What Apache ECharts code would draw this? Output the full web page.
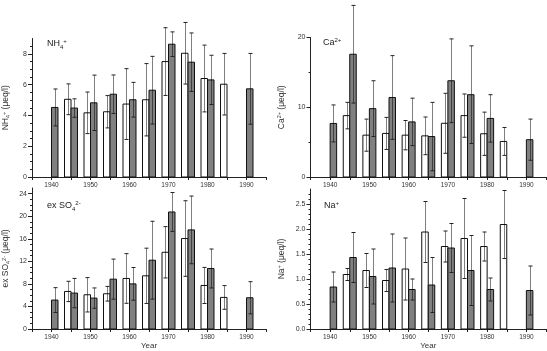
<!DOCTYPE html>
<html>
<head>
<meta charset="utf-8">
<script src="https://cdn.jsdelivr.net/npm/echarts@6/dist/echarts.min.js"></script>
<style>
  html, body { margin: 0; padding: 0; background: #fff; }
  #chart { width: 547px; height: 351px; }
</style>
</head>
<body>
<div id="chart"></div>
<script>
// 5-year periods; open bars sit left of the period tick, filled bars right of it
const years = [1940, 1945, 1950, 1955, 1960, 1965, 1970, 1975, 1980, 1985, 1990];

// NH4+ (ueq/l)
const nh4Open = [null, 5.05, 4.17, 4.24, 4.74, 5.02, 7.5, 8.04, 6.4, 6.03, null];
const nh4OpenSd = [null, 1.0, 1.35, 1.05, 2.3, 2.35, 2.2, 2.0, 2.17, 2.0, null];
const nh4Fill = [4.52, 4.48, 4.82, 5.38, 5.02, 5.64, 8.63, 7.46, 6.31, null, 5.73];
const nh4FillSd = [1.2, 0.6, 1.8, 1.25, 1.13, 2.2, 0.8, 1.9, 1.6, null, 2.3];

// Ca2+ (ueq/l)
const caOpen = [null, 8.8, 6.0, 6.25, 6.0, 5.9, 7.7, 8.8, 6.2, 5.1, null];
const caOpenSd = [null, 1.9, 2.3, 2.3, 2.1, 2.7, 4.3, 3.1, 3.1, 2.0, null];
const caFill = [7.68, 17.6, 9.8, 11.4, 7.9, 5.8, 13.8, 11.8, 8.4, null, 5.35];
const caFillSd = [2.65, 7.0, 4.0, 6.0, 3.4, 4.9, 6.0, 7.0, 3.4, null, 2.95];

// ex SO4 2- (ueq/l)
const so4Open = [null, 6.66, 6.07, 6.25, 8.96, 9.43, 13.6, 16.04, 7.72, 5.6, null];
const so4OpenSd = [null, 1.8, 3.05, 1.3, 4.4, 4.9, 4.55, 6.7, 3.2, 2.1, null];
const so4Fill = [5.13, 6.37, 5.48, 8.84, 8.0, 12.2, 20.75, 17.57, 10.73, null, 5.54];
const so4FillSd = [2.2, 2.6, 1.8, 3.55, 2.9, 6.9, 3.45, 6.0, 3.45, null, 2.85];

// Na+ (ueq/l)
const naOpen = [null, 1.09, 1.17, 0.97, 1.2, 1.94, 1.65, 1.81, 1.65, 2.09, null];
const naOpenSd = [null, 0.12, 0.34, 0.22, 0.62, 0.61, 0.31, 0.8, 0.29, 0.68, null];
const naFill = [0.84, 1.43, 1.05, 1.22, 0.79, 0.88, 1.62, 1.17, 0.79, null, 0.77];
const naFillSd = [0.3, 0.5, 0.55, 0.68, 0.21, 0.55, 0.49, 0.7, 0.23, null, 0.49];

const xTickLabels = [1940, 1950, 1960, 1970, 1980, 1990];

const FONT = "'Liberation Sans', Arial, sans-serif";
const BAR_W = 6.5;
const FILL_GREY = '#808080';

const rich = {
    b: { fontSize: 9, fontFamily: FONT, fontWeight: 'normal', color: '#222', lineHeight: 12 },
    sub: { fontSize: 6, fontFamily: FONT, fontWeight: 'normal', color: '#222', lineHeight: 6, verticalAlign: 'bottom' },
    sup: { fontSize: 6, fontFamily: FONT, fontWeight: 'normal', color: '#222', lineHeight: 6, verticalAlign: 'top' },
    n: { fontSize: 8.5, fontFamily: FONT, color: '#333', lineHeight: 10 },
    nsub: { fontSize: 5.5, fontFamily: FONT, color: '#333', lineHeight: 5, verticalAlign: 'bottom' },
    nsup: { fontSize: 5.5, fontFamily: FONT, color: '#333', lineHeight: 5, verticalAlign: 'top' }
};

const panels = [
    {
        grid: { left: 30, top: 38.5, width: 236, height: 138.5 },
        max: 9, interval: 2, minor: 4, ticks: [0, 2, 4, 6, 8],
        label: '{b|NH}{sub|4}{sup|+}', labelPos: [47, 38],
        name: '{n|NH}{nsub|4}{nsup|+}{n| (μeq/l)}', nameGap: 21,
        open: nh4Open, openSd: nh4OpenSd, fill: nh4Fill, fillSd: nh4FillSd,
        fmt: v => String(v), year: false
    },
    {
        grid: { left: 310.5, top: 37.5, width: 235.5, height: 139.5 },
        max: 20, interval: 10, minor: 2, ticks: [0, 10, 20],
        label: '{b|Ca}{sup|2+}', labelPos: [323, 37],
        name: '{n|Ca}{nsup|2+}{n| (μeq/l)}', nameGap: 24,
        open: caOpen, openSd: caOpenSd, fill: caFill, fillSd: caFillSd,
        fmt: v => String(v), year: false
    },
    {
        grid: { left: 30, top: 188, width: 236, height: 141 },
        max: 25, interval: 4, minor: 4, ticks: [0, 4, 8, 12, 16, 20, 24],
        label: '{b|ex SO}{sub|4}{sup|2-}', labelPos: [47, 200],
        name: '{n|ex SO}{nsub|4}{nsup|2-}{n| (μeq/l)}', nameGap: 21,
        open: so4Open, openSd: so4OpenSd, fill: so4Fill, fillSd: so4FillSd,
        fmt: v => String(v), year: true
    },
    {
        grid: { left: 310.5, top: 189, width: 235.5, height: 140 },
        max: 2.8, interval: 0.5, minor: 5, ticks: [0, 0.5, 1, 1.5, 2, 2.5],
        label: '{b|Na}{sup|+}', labelPos: [324, 200],
        name: '{n|Na}{nsup|+}{n| (μeq/l)}', nameGap: 24,
        open: naOpen, openSd: naOpenSd, fill: naFill, fillSd: naFillSd,
        fmt: v => v.toFixed(1), year: true
    }
];

function toData(vals, sds) {
    const out = [];
    years.forEach((y, i) => {
        if (vals[i] != null) out.push([y, vals[i], sds[i]]);
    });
    return out;
}

// side -1: bar left of the period tick (open), +1: right of it (filled)
function barItem(side) {
    return function (params, api) {
        const x = api.value(0), v = api.value(1), sd = api.value(2);
        const p0 = api.coord([x, 0]);
        const p1 = api.coord([x, v]);
        const hi = api.coord([x, v + sd]);
        const lo = api.coord([x, v - sd]);
        const left = side < 0 ? p0[0] - BAR_W : p0[0];
        const cx = Math.round(left + BAR_W / 2) + 0.5;
        return {
            type: 'group',
            children: [
                {
                    type: 'rect',
                    shape: { x: left, y: p1[1], width: BAR_W, height: p0[1] - p1[1] },
                    style: { fill: side < 0 ? '#fff' : FILL_GREY, stroke: '#111', lineWidth: 1 }
                },
                {
                    type: 'line',
                    shape: { x1: cx, y1: lo[1], x2: cx, y2: hi[1] },
                    style: { stroke: 'rgba(0,0,0,0.5)', lineWidth: 1 }
                },
                {
                    type: 'line',
                    shape: { x1: cx - 2, y1: hi[1], x2: cx + 2, y2: hi[1] },
                    style: { stroke: '#222', lineWidth: 1 }
                },
                {
                    type: 'line',
                    shape: { x1: cx - 2, y1: lo[1], x2: cx + 2, y2: lo[1] },
                    style: { stroke: '#222', lineWidth: 1 }
                }
            ]
        };
    };
}

const option = {
    animation: false,
    backgroundColor: '#fff',
    grid: [], xAxis: [], yAxis: [], series: [], title: []
};

panels.forEach((p, i) => {
    option.grid.push(p.grid);
    option.xAxis.push({
        type: 'value', gridIndex: i, min: 1935, max: 1995, interval: 5,
        axisLine: { lineStyle: { color: '#222', width: 1 } },
        axisTick: { length: 3, lineStyle: { color: '#222' } },
        axisLabel: {
            customValues: xTickLabels, formatter: v => String(v),
            fontSize: 6.5, fontFamily: FONT, color: '#333', margin: 5
        },
        splitLine: { show: false },
        name: p.year ? 'Year' : '',
        nameLocation: 'middle', nameGap: 12,
        nameTextStyle: { fontSize: 8, fontFamily: FONT, color: '#333' }
    });
    option.yAxis.push({
        type: 'value', gridIndex: i, min: 0, max: p.max, interval: p.interval,
        axisLine: { show: true, lineStyle: { color: '#222', width: 1 } },
        axisTick: { show: true, length: 4, customValues: p.ticks, lineStyle: { color: '#222' } },
        minorTick: { show: true, splitNumber: p.minor, length: 2, lineStyle: { color: '#222' } },
        axisLabel: {
            customValues: p.ticks, formatter: p.fmt,
            fontSize: 7, fontFamily: FONT, color: '#333', margin: 5
        },
        splitLine: { show: false },
        name: p.name, nameLocation: 'middle', nameGap: p.nameGap, nameRotate: 90,
        nameTextStyle: { rich: rich }
    });
    option.title.push({
        text: p.label, left: p.labelPos[0], top: p.labelPos[1], padding: 0,
        textStyle: { fontWeight: 'normal', rich: rich }
    });
    option.series.push({
        type: 'custom', xAxisIndex: i, yAxisIndex: i,
        renderItem: barItem(-1), clip: false,
        encode: { x: 0, y: 1 },
        data: toData(p.open, p.openSd)
    });
    option.series.push({
        type: 'custom', xAxisIndex: i, yAxisIndex: i,
        renderItem: barItem(1), clip: false,
        encode: { x: 0, y: 1 },
        data: toData(p.fill, p.fillSd)
    });
});

const chart = echarts.init(document.getElementById('chart'), null, { renderer: 'canvas' });
chart.setOption(option);
</script>
</body>
</html>
